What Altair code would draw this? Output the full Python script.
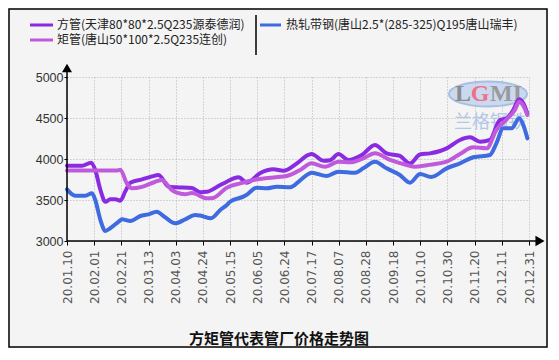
import json
import altair as alt
import pandas as pd

# ---------------- data ----------------
TICK_LABELS = ["20.01.10", "20.02.01", "20.02.21", "20.03.13", "20.04.03", "20.04.24",
               "20.05.15", "20.06.05", "20.06.24", "20.07.17", "20.08.07", "20.08.28",
               "20.09.18", "20.10.10", "20.10.30", "20.11.20", "20.12.11", "20.12.31"]

SERIES = ["方管(天津80*80*2.5Q235源泰德润)",
          "矩管(唐山50*100*2.5Q235连创)",
          "热轧带钢(唐山2.5*(285-325)Q195唐山瑞丰)"]
COLORS = ["#8A2BE2", "#C05ADC", "#3F6BE0"]

FG_X = [0.0, 0.55, 0.89, 1.04, 1.23, 1.41, 1.59, 1.78, 1.96, 2.14, 2.33, 2.76, 3.1, 3.37,
        3.74, 4.04, 4.6, 4.9, 5.15, 5.64, 5.88, 6.31, 6.62, 7.1, 7.6, 7.96, 8.46, 8.88,
        9.0, 9.43, 9.68, 9.99, 10.35, 10.85, 11.33, 11.76, 12.25, 12.62, 12.99, 13.36,
        13.97, 14.46, 14.83, 15.2, 15.56, 15.93, 16.18, 16.42, 16.64, 16.79, 16.94]
FG_Y = [3918, 3918, 3955, 3866, 3622, 3479, 3508, 3510, 3492, 3602, 3711, 3752, 3785, 3805,
        3662, 3655, 3645, 3595, 3600, 3683, 3723, 3777, 3711, 3826, 3874, 3857, 3947, 4049,
        4061, 3979, 3985, 4061, 3988, 4049, 4171, 4069, 4037, 3947, 4055, 4069,
        4130, 4232, 4264, 4211, 4232, 4476, 4496, 4598, 4728, 4679, 4557]

JG_X = [0.0, 1.84, 1.96, 2.2, 2.39, 2.76, 3.25, 3.49, 3.86, 4.04, 4.35, 4.6, 5.15, 5.38,
        5.88, 6.37, 6.86, 7.6, 8.09, 8.6, 9.0, 9.49, 9.99, 10.41, 10.9, 11.33, 11.89,
        12.5, 12.8, 13.24, 13.97, 14.46, 14.95, 15.44, 15.8, 16.18, 16.48, 16.64, 16.79, 16.94]
JG_Y = [3860, 3860, 3870, 3703, 3642, 3660, 3723, 3743, 3622, 3589, 3570, 3585, 3520, 3525,
        3650, 3703, 3744, 3775, 3793, 3870, 3947, 3906, 3967, 3960, 4008, 4069, 3988,
        3927, 3906, 3925, 3967, 4061, 4142, 4130, 4354, 4484, 4598, 4699, 4650, 4537]

RZ_X = [0.0, 0.3, 0.67, 0.92, 1.04, 1.23, 1.41, 1.59, 1.9, 2.02, 2.33, 2.7, 3.0, 3.3, 3.61,
        3.98, 4.35, 4.72, 4.9, 5.3, 5.64, 5.88, 6.0, 6.49, 6.6, 6.98, 7.35, 7.72, 8.21,
        8.58, 8.88, 9.0, 9.56, 9.99, 10.6, 10.9, 11.33, 11.76, 12.25, 12.62, 12.99, 13.4,
        13.97, 14.46, 14.95, 15.56, 15.8, 16.05, 16.36, 16.64, 16.79, 16.94]
RZ_Y = [3630, 3553, 3553, 3581, 3500, 3256, 3122, 3155, 3236, 3264, 3244, 3305, 3325, 3358, 3289,
        3216, 3264, 3317, 3310, 3277, 3378, 3439, 3479, 3541, 3561, 3650, 3642, 3662, 3655,
        3740, 3817, 3833, 3793, 3846, 3833, 3886, 3967, 3886, 3805, 3711, 3817, 3780,
        3886, 3947, 4021, 4049, 4191, 4374, 4374, 4496, 4415, 4252]

rows = []
for name, xs, ys in [(SERIES[0], FG_X, FG_Y), (SERIES[1], JG_X, JG_Y), (SERIES[2], RZ_X, RZ_Y)]:
    for xv, yv in zip(xs, ys):
        rows.append({"series": name, "x": xv, "price": yv})
df = pd.DataFrame(rows)

# ---------------- layout ----------------
W, H = 462, 164
PAD_L, PAD_T, PAD_R, PAD_B = 59, 69, 19, 107
CJK = "Noto Sans CJK SC"

color_scale = alt.Scale(domain=SERIES, range=COLORS)
x_scale = alt.Scale(domain=[0, 17], nice=False, zero=False)
y_scale = alt.Scale(domain=[3000, 5000], nice=False, zero=False)

label_expr = json.dumps(TICK_LABELS) + "[round(datum.value)]"

one = pd.DataFrame({"a": [0]})

frame = alt.Chart(one).mark_rect(fillOpacity=0, stroke="#000000", strokeWidth=1.5).encode(
    x=alt.value(-PAD_L + 1), x2=alt.value(W + PAD_R - 1),
    y=alt.value(-PAD_T + 1), y2=alt.value(H + PAD_B - 1))

# watermark (decoration)
wm_ellipse = alt.Chart(one).mark_point(
    shape="M-1,0A1,0.32,0,1,0,1,0A1,0.32,0,1,0,-1,0Z", filled=True,
    fill="#BCD0EE", stroke="#8FAEDC", strokeWidth=2, opacity=0.75, size=6100
).encode(x=alt.value(421), y=alt.value(17))
wm_L = alt.Chart(one).mark_text(font="Liberation Serif", fontSize=24, fontWeight="bold",
                                 color="#8C8C8C", align="center", baseline="middle").encode(
    x=alt.value(396), y=alt.value(17), text=alt.value("L"))
wm_G = alt.Chart(one).mark_text(font="Liberation Serif", fontSize=24, fontWeight="bold",
                                 color="#F07088", align="center", baseline="middle").encode(
    x=alt.value(413), y=alt.value(17), text=alt.value("G"))
wm_MI = alt.Chart(one).mark_text(font="Liberation Serif", fontSize=24, fontWeight="bold",
                                  color="#9A9A9A", align="center", baseline="middle").encode(
    x=alt.value(439), y=alt.value(17), text=alt.value("MI"))
wm_cn = alt.Chart(one).mark_text(font=CJK, fontSize=18, color="#B3C6E6", align="center",
                                  baseline="middle").encode(
    x=alt.value(423), y=alt.value(46), text=alt.value("兰格钢铁"))

lines = alt.Chart(df).mark_line(strokeWidth=4, interpolate="monotone", strokeCap="round",
                                strokeJoin="round").encode(
    x=alt.X("x:Q", scale=x_scale, title=None,
            axis=alt.Axis(values=list(range(18)), labelExpr=label_expr, labelAngle=270,
                          labelFont="DejaVu Sans", labelFontSize=12, labelColor="#555555",
                          labelPadding=5, tickSize=4, tickColor="#000000", domain=False,
                          grid=True, gridDash=[1, 2], gridColor="#B4B4B4", labelOverlap=False)),
    y=alt.Y("price:Q", scale=y_scale, title=None,
            axis=alt.Axis(values=[3000, 3500, 4000, 4500, 5000], format="d",
                          labelFont="Liberation Sans",
                          labelFontSize=12.5, labelColor="#333333", labelPadding=1, tickSize=3,
                          tickColor="#000000", domain=False, grid=True, gridDash=[1, 2],
                          gridColor="#B4B4B4")),
    color=alt.Color("series:N", scale=color_scale, legend=None),
    detail="series:N",
)

# axis lines with arrows
x_line = alt.Chart(one).mark_rule(color="#000000", strokeWidth=1.5).encode(
    x=alt.value(0), x2=alt.value(470), y=alt.value(H))
y_line = alt.Chart(one).mark_rule(color="#000000", strokeWidth=1.5).encode(
    x=alt.value(0), y=alt.value(-6), y2=alt.value(H))
x_arrow = alt.Chart(one).mark_point(shape="triangle-right", filled=True, color="#000000",
                                    opacity=1, size=110).encode(x=alt.value(473), y=alt.value(H))
y_arrow = alt.Chart(one).mark_point(shape="triangle-up", filled=True, color="#000000",
                                    opacity=1, size=100).encode(x=alt.value(0), y=alt.value(-9))

# manual legend
LEG_POS = [(-37, -14, -10, -52), (-37, -14, -10, -37), (193, 214, 219, -52)]
legend_layers = []
for name, col, (sx, sx2, tx, ty) in zip(SERIES, COLORS, LEG_POS):
    legend_layers.append(alt.Chart(one).mark_rule(strokeWidth=3, color=col).encode(
        x=alt.value(sx), x2=alt.value(sx2), y=alt.value(ty)))
    legend_layers.append(alt.Chart(one).mark_text(font=CJK, fontSize=12, color="#222222",
                                                  align="left", baseline="middle").encode(
        x=alt.value(tx), y=alt.value(ty), text=alt.value(name)))
sep = alt.Chart(one).mark_rule(color="#000000", strokeWidth=1.5).encode(
    x=alt.value(189), y=alt.value(-62), y2=alt.value(-22))

title = alt.Chart(one).mark_text(
    font=CJK, fontSize=15, fontWeight="bold", color="#111111", align="center", baseline="middle"
).encode(x=alt.value(212), y=alt.value(262), text=alt.value("方矩管代表管厂价格走势图"))

chart = alt.layer(wm_ellipse, wm_L, wm_G, wm_MI, wm_cn, lines, frame, x_line, y_line,
                  x_arrow, y_arrow, *legend_layers, sep, title).properties(
    width=W, height=H,
    autosize=alt.AutoSizeParams(type="none"),
    padding={"left": PAD_L, "top": PAD_T, "right": PAD_R, "bottom": PAD_B},
    background="#F4F4F4",
).configure_view(strokeWidth=0)

chart.save("out.html", embed_options={"renderer": "svg", "actions": False})
